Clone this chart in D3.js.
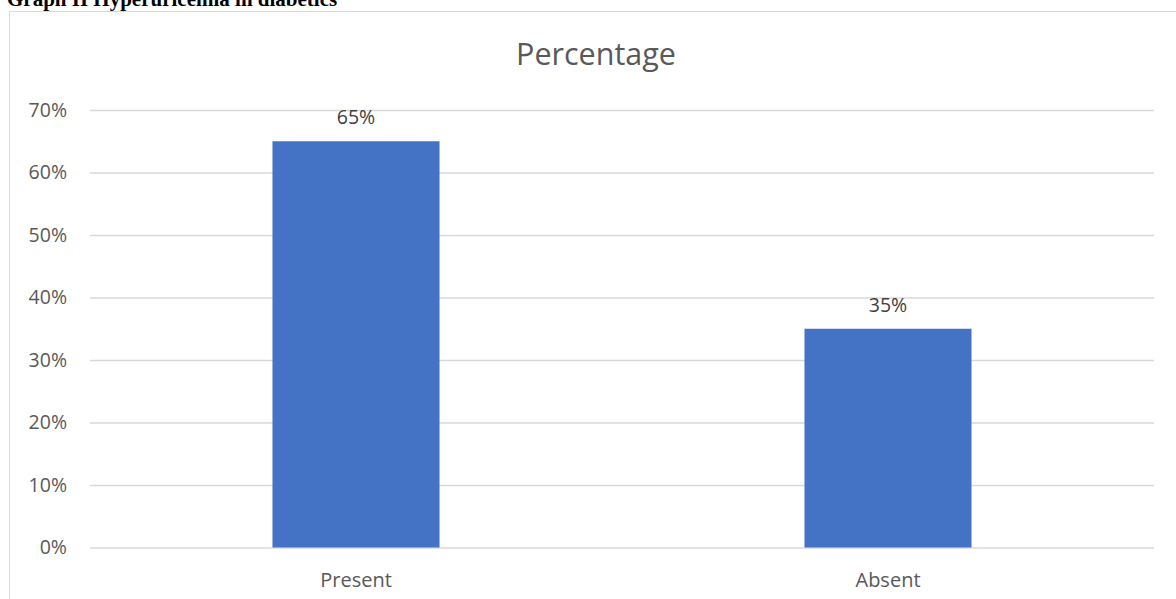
<!DOCTYPE html>
<html><head><meta charset="utf-8">
<script src="https://cdn.jsdelivr.net/npm/d3@7"></script>
<style>html,body{margin:0;padding:0;background:#fff;overflow:hidden}</style>
</head><body>
<svg id="c" width="1176" height="599"></svg>
<script>
const categories = ["Present", "Absent"];
const values = [65, 35];
const tickValues = [0, 10, 20, 30, 40, 50, 60, 70];
const chartTitle = "Percentage";
const docTitle = "Graph II Hyperuricemia in diabetics";

const svg = d3.select("#c");
const m = {left: 90, right: 1154, top: 110, bottom: 547.5};
const FONT = "Open Sans, Noto Sans, sans-serif";

// outer document caption
svg.append("text").attr("x", 7).attr("y", 6)
  .attr("font-family", "Liberation Serif, Times New Roman, serif")
  .attr("font-weight", "bold").attr("font-size", 21).attr("fill", "#000")
  .text(docTitle);

// chart frame
svg.append("rect").attr("x", 9.5).attr("y", 11.5).attr("width", 1200).attr("height", 700)
  .attr("fill", "#fff").attr("stroke", "#d9d9d9").attr("stroke-width", 1);

const x = d3.scaleBand().domain(categories).range([m.left, m.right]).paddingInner(0.686).paddingOuter(0.343);
const y = d3.scaleLinear().domain([0, 70]).range([m.bottom, m.top]);

// gridlines + y tick labels
const yAxis = d3.axisLeft(y).tickValues(tickValues).tickSize(-(m.right - m.left)).tickFormat(d => d + "%").tickPadding(23);
const gy = svg.append("g").attr("transform", `translate(${m.left},0)`).call(yAxis);
gy.select(".domain").remove();
gy.selectAll(".tick line").attr("stroke", "#d9d9d9").attr("stroke-width", 1.3);
gy.selectAll(".tick text").attr("fill", "#595959").attr("font-size", 19.5).attr("font-family", FONT);

// bars
svg.append("g").selectAll("rect").data(values).join("rect")
  .attr("x", (d, i) => x(categories[i]))
  .attr("y", d => y(d))
  .attr("width", x.bandwidth())
  .attr("height", d => y(0) - y(d))
  .attr("fill", "#4472C4");

// data labels
svg.append("g").selectAll("text").data(values).join("text")
  .attr("x", (d, i) => x(categories[i]) + x.bandwidth() / 2)
  .attr("y", d => y(d) - 17)
  .attr("text-anchor", "middle").attr("fill", "#404040").attr("font-size", 19.5)
  .attr("font-family", FONT)
  .text(d => d + "%");

// x axis labels
const xAxis = d3.axisBottom(x).tickSize(0).tickPadding(25);
const gx = svg.append("g").attr("transform", `translate(0,${m.bottom})`).call(xAxis);
gx.select(".domain").remove();
gx.selectAll(".tick text").attr("fill", "#595959").attr("font-size", 20).attr("font-family", FONT);

// chart title
svg.append("text").attr("x", 596).attr("y", 65)
  .attr("text-anchor", "middle").attr("fill", "#595959").attr("font-size", 30.5)
  .attr("font-family", FONT)
  .text(chartTitle);
</script>
</body></html>
